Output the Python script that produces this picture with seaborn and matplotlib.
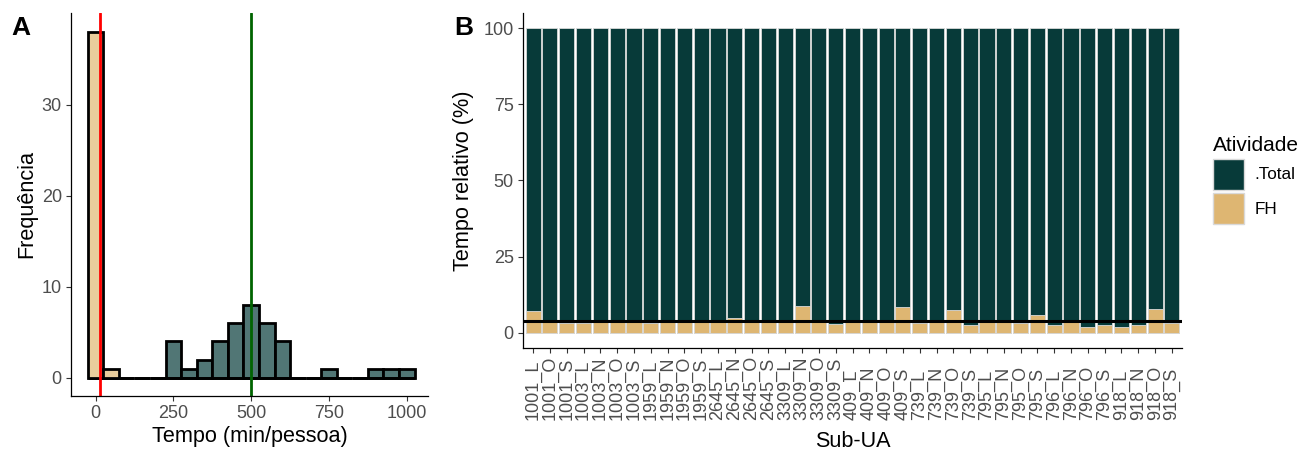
import numpy as np
import pandas as pd
import matplotlib
matplotlib.use("Agg")
import matplotlib.pyplot as plt
import seaborn as sns
from matplotlib.patches import Patch

# ---- Panel A: histogram of time per person (50-min bins centred on 0, 50, ..., 1000)
bin_centers  = [0, 50, 100, 150, 200, 250, 300, 350, 400, 450, 500,
                550, 600, 650, 700, 750, 800, 850, 900, 950, 1000]
fh_counts    = [38, 1, 0, 0, 0, 0, 0, 0, 0, 0, 0,
                0, 0, 0, 0, 0, 0, 0, 0, 0, 0]
total_counts = [0, 0, 0, 0, 0, 4, 1, 2, 4, 6, 8,
                6, 4, 0, 0, 1, 0, 0, 1, 1, 1]
fh_mean_min    = 14
total_mean_min = 500

# ---- Panel B: relative time per Sub-UA
sub_ua = ["1001_L", "1001_O", "1001_S",
          "1003_L", "1003_N", "1003_O", "1003_S",
          "1959_L", "1959_N", "1959_O", "1959_S",
          "2645_L", "2645_N", "2645_O", "2645_S",
          "3309_L", "3309_N", "3309_O", "3309_S",
          "409_L", "409_N", "409_O", "409_S",
          "739_L", "739_N", "739_O", "739_S",
          "795_L", "795_N", "795_O", "795_S",
          "796_L", "796_N", "796_O", "796_S",
          "918_L", "918_N", "918_O", "918_S"]
fh_pct = [7.0, 4.0, 3.1,
          3.1, 3.9, 4.0, 3.9,
          3.1, 4.0, 3.9, 4.0,
          3.9, 5.0, 4.0, 3.9,
          4.0, 8.9, 3.9, 2.9,
          4.0, 3.9, 4.0, 8.4,
          3.1, 3.9, 7.5, 2.5,
          3.9, 4.0, 3.3, 6.0,
          2.5, 3.9, 2.0, 2.5,
          2.0, 2.5, 7.8, 3.1]
total_pct = [100, 100, 100,
             100, 100, 100, 100,
             100, 100, 100, 100,
             100, 100, 100, 100,
             100, 100, 100, 100,
             100, 100, 100, 100,
             100, 100, 100, 100,
             100, 100, 100, 100,
             100, 100, 100, 100,
             100, 100, 100, 100]
fh_pct_mean = 4.0

DARK      = "#073a39"
TAN       = "#deb672"
DARK_HIST = "#517675"
TAN_HIST  = "#e9cd9c"
TICK_TXT  = "#4d4d4d"
TICK_COL  = "#333333"

sns.set_style("ticks")
plt.rcParams["font.family"] = ["Liberation Sans", "DejaVu Sans"]
plt.rcParams["text.color"] = "black"
plt.rcParams["axes.labelcolor"] = "black"

W, H = 1305, 451
fig = plt.figure(figsize=(W / 100, H / 100), dpi=100)
ax_a = fig.add_axes([71 / W, 1 - 396 / H, (428 - 71) / W, (396 - 13) / H])
ax_b = fig.add_axes([523 / W, 1 - 348 / H, (1182 - 523) / W, (348 - 13) / H])

# ---------------- Panel A
hist_df = pd.DataFrame({"tempo": bin_centers, "fh": fh_counts, "total": total_counts})
sns.histplot(data=hist_df, x="tempo", weights="total", binwidth=50, binrange=(-25, 1025),
             color=DARK_HIST, alpha=1, edgecolor="black", linewidth=2.0, ax=ax_a)
sns.histplot(data=hist_df, x="tempo", weights="fh", binwidth=50, binrange=(-25, 1025),
             color=TAN_HIST, alpha=1, edgecolor="black", linewidth=2.0, ax=ax_a)
ax_a.axvline(fh_mean_min, color="red", lw=2.0)
ax_a.axvline(total_mean_min, color="#006400", lw=2.0)
ax_a.set_xlim(-79, 1068)
ax_a.set_ylim(-2.0, 40.1)
ax_a.set_xticks([0, 250, 500, 750, 1000])
ax_a.set_yticks([0, 10, 20, 30])
ax_a.set_xlabel("Tempo (min/pessoa)", fontsize=15.6, labelpad=3)
ax_a.set_ylabel("Frequência", fontsize=15.6, labelpad=3)

# ---------------- Panel B
bar_df = pd.DataFrame({"sub_ua": sub_ua, "fh": fh_pct, "total": total_pct})
sns.barplot(data=bar_df, x="sub_ua", y="total", order=sub_ua, color=DARK, saturation=1,
            width=0.9, edgecolor="#d9d9d9", linewidth=0.6, errorbar=None, ax=ax_b)
sns.barplot(data=bar_df, x="sub_ua", y="fh", order=sub_ua, color=TAN, saturation=1,
            width=0.9, edgecolor="#d9d9d9", linewidth=0.6, errorbar=None, ax=ax_b)
ax_b.axhline(fh_pct_mean, color="black", lw=2.2)
ax_b.set_xlim(-0.6, len(sub_ua) - 0.4)
ax_b.set_ylim(-5, 105)
ax_b.set_yticks([0, 25, 50, 75, 100])
ax_b.set_xlabel("Sub-UA", fontsize=15.6, labelpad=8)
ax_b.set_ylabel("Tempo relativo (%)", fontsize=15.6, labelpad=7)

for ax in (ax_a, ax_b):
    sns.despine(ax=ax)
    for s in ("left", "bottom"):
        ax.spines[s].set_linewidth(0.9)
        ax.spines[s].set_color("black")
    ax.tick_params(length=3.6, width=0.8, color=TICK_COL, labelsize=13,
                   labelcolor=TICK_TXT, pad=3.0)

ax_b.tick_params(axis="x", pad=48.2)
for lab in ax_b.get_xticklabels():
    lab.set_rotation(90)
    lab.set_rotation_mode("anchor")
    lab.set_ha("left")
    lab.set_va("center")

# legend
handles = [Patch(facecolor=DARK, edgecolor="#d9d9d9"),
           Patch(facecolor=TAN, edgecolor="#d9d9d9")]
leg = fig.legend(handles, [".Total", "FH"], title="Atividade", loc="upper left",
                 bbox_to_anchor=(1213 / W, 1 - 136 / H), frameon=False,
                 fontsize=12.3, title_fontsize=15, handlelength=1.8, handleheight=2.4,
                 labelspacing=0.22, handletextpad=0.65, borderpad=0, borderaxespad=0)
leg._legend_box.align = "left"

# panel tags
fig.text(11 / W, 1 - 16 / H, "A", fontsize=19, fontweight="bold", ha="left", va="top",
         color="black")
fig.text(454 / W, 1 - 16 / H, "B", fontsize=19, fontweight="bold", ha="left", va="top",
         color="black")

fig.savefig("out.png", dpi=100)
